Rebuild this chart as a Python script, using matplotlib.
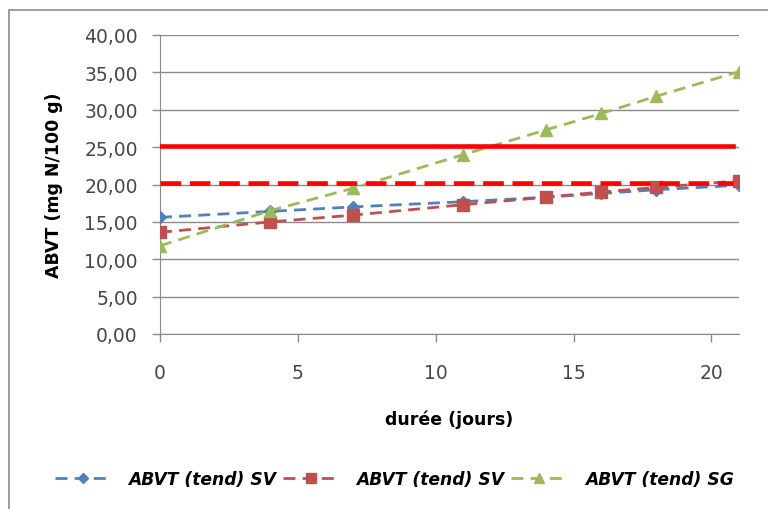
import matplotlib
matplotlib.use("Agg")
import matplotlib.pyplot as plt
from matplotlib.patches import Rectangle
from matplotlib.ticker import FuncFormatter

plt.rcParams["font.family"] = ["DejaVu Sans"]

# durée (jours)
jours = [0, 4, 7, 11, 14, 16, 18, 21]
sv1 = [15.6, 16.4, 17.0, 17.7, 18.3, 18.8, 19.3, 19.9]
sv2 = [13.6, 15.0, 15.9, 17.3, 18.3, 19.0, 19.6, 20.5]
sg = [11.8, 16.5, 19.5, 24.0, 27.3, 29.5, 31.8, 35.1]
labels = ["ABVT (tend) SV", "ABVT (tend) SV", "ABVT (tend) SG"]

# seuils
seuil_x = [0, 20.8]
seuil_haut = 25.2
seuil_bas = 20.2

fig = plt.figure(figsize=(7.68, 5.10), dpi=100)
fig.patches.append(Rectangle((9 / 768, -0.1), 1.2, 1 - 11 / 510 + 0.1,
                             transform=fig.transFigure, fill=False,
                             edgecolor="#8c8c8c", linewidth=1.2))
ax = fig.add_axes([160 / 768, 1 - 335 / 510, 579 / 768, 299 / 510])

ax.plot(jours, sv1, color="#4F81BD", lw=2, dashes=(4.3, 2.6),
        marker="D", ms=6.5, label=labels[0], zorder=3)
ax.plot(jours, sv2, color="#C0504D", lw=2, dashes=(4.3, 2.6),
        marker="s", ms=8, label=labels[1], zorder=3)
ax.plot(jours, sg, color="#9BBB59", lw=2, dashes=(4.3, 2.6),
        marker="^", ms=8.5, label=labels[2], zorder=3)

ax.plot(seuil_x, [seuil_haut] * 2, color="#FF0000", lw=3.3, zorder=4)
ax.plot(seuil_x, [seuil_bas] * 2, color="#FF0000", lw=3.3,
        dashes=(4.5, 1.9), zorder=4)

ax.set_xlim(0, 21)
ax.set_ylim(0, 40)
ax.set_xticks([0, 5, 10, 15, 20])
ax.set_yticks(range(0, 41, 5))
ax.yaxis.set_major_formatter(FuncFormatter(lambda v, p: f"{v:.2f}".replace(".", ",")))
ax.grid(axis="y", color="#8a8a8a", lw=1)
ax.set_axisbelow(True)

for s in ["top", "right"]:
    ax.spines[s].set_visible(False)
for s in ["left", "bottom"]:
    ax.spines[s].set_color("#8a8a8a")

ax.tick_params(axis="both", colors="#8a8a8a", labelcolor="#474747",
               labelsize=13.5, length=6, width=1)
ax.tick_params(axis="x", pad=15)
ax.tick_params(axis="y", pad=10)

ax.set_ylabel("ABVT (mg N/100 g)", fontsize=12.5, fontweight="bold",
              labelpad=15)
ax.set_xlabel("durée (jours)", fontsize=12.5, fontweight="bold", labelpad=20)

fig.legend(loc="center", bbox_to_anchor=(394 / 768, 1 - 480 / 510), ncol=3,
           frameon=False, handlelength=3.3, columnspacing=0.4,
           handletextpad=1.0, markerscale=0.85,
           prop={"size": 12.3, "style": "italic", "weight": "bold"})

fig.savefig("out.png", dpi=100)
